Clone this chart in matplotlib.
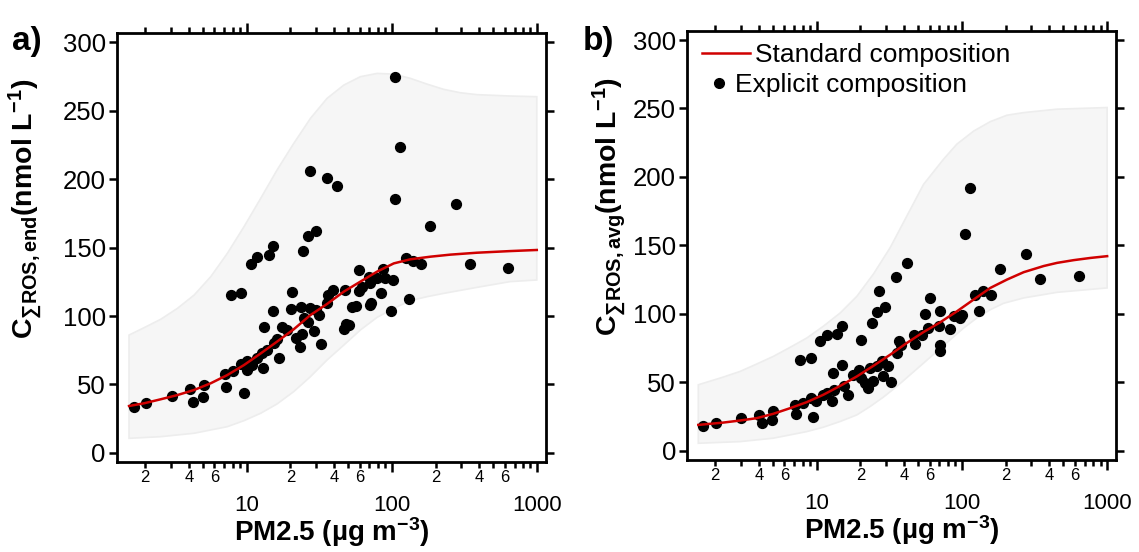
import numpy as np
import matplotlib
matplotlib.use("Agg")
import matplotlib.pyplot as plt
from matplotlib.lines import Line2D
from matplotlib.ticker import FixedLocator, FuncFormatter

plt.rcParams["font.family"] = ["Liberation Sans", "DejaVu Sans"]
plt.rcParams["mathtext.fontset"] = "custom"
plt.rcParams["mathtext.rm"] = "Liberation Sans"
plt.rcParams["mathtext.bf"] = "Liberation Sans:bold"
plt.rcParams["mathtext.it"] = "Liberation Sans:italic"

# ---- panel a: end-of-run concentration ----
a_pm = [1.68, 2.04, 3.05, 4.08, 4.30, 4.98, 5.12, 7.10, 7.25, 8.06, 9.19, 9.54,
        10.0, 10.1, 10.9, 11.8, 12.9, 12.8, 13.2, 13.9, 15.2, 15.4, 16.2, 16.7,
        17.6, 19.0, 20.1, 20.4, 21.7, 23.3, 23.5, 24.1, 24.8, 26.5, 27.5, 29.0,
        29.8, 31.4, 32.6, 35.8, 36.4, 39.4, 46.7, 47.9, 48.7, 50.5, 53.2, 57.0,
        59.2, 59.2, 62.4, 69.3, 70.4, 71.2, 72.3, 79.1, 84.2, 86.5, 90.2, 99.2,
        101.9, 7.76, 9.19, 10.7, 11.8, 14.2, 15.3, 24.3, 26.4, 29.8, 27.1, 35.5,
        42.2, 104.6, 114.4, 105.7, 182, 277.6, 125.8, 139.8, 159.5, 131.2, 342.6, 635.3]
a_ros = [33.8, 36.7, 41.8, 46.5, 37.5, 40.6, 49.6, 57.4, 47.9, 59.9, 64.7, 43.6,
         60.6, 67.2, 64.2, 69.1, 62.3, 73.2, 92.2, 75.2, 103.6, 80.0, 83.0, 69.1,
         92.2, 89.8, 104.9, 117.3, 83.7, 77.1, 106.8, 86.9, 98.3, 95.9, 105.6, 89.1,
         104.4, 100.7, 79.3, 109.2, 115.3, 119.0, 90.3, 119.0, 93.9, 93.4, 106.8, 107.3,
         133.6, 118.5, 121.4, 128.2, 123.8, 108.0, 109.7, 127.5, 116.5, 134.1, 127.5, 103.9,
         126.3, 115.3, 116.5, 137.7, 143.3, 144.5, 151.1, 147.4, 158.4, 161.8, 206.1, 201.0,
         194.9, 274.2, 223.6, 185.2, 165.7, 181.5, 142.6, 140.4, 138.0, 112.2, 137.7, 135.3]

a_std_pm = [1.55, 1.97, 2.56, 3.34, 4.35, 5.66, 7.36, 9.59, 12.5, 16.2, 21.1, 27.5,
            35.8, 46.7, 60.7, 79.1, 103.0, 134, 184, 252.5, 385, 652, 995]
a_std_ros = [34.3, 36.3, 39.2, 42.3, 46.0, 50.9, 56.9, 64.2, 72.7, 81.3, 90.3, 100.7,
             108.8, 117.8, 125.1, 132.4, 138.4, 141.4, 143.3, 144.8, 146.2, 147.4, 148.2]

a_up_pm = [1.55, 1.97, 2.56, 3.34, 4.35, 5.66, 7.36, 9.59, 12.5, 16.2, 21.1, 27.5,
           35.8, 46.7, 60.7, 79.1, 103.0, 134, 174.5, 227, 295.7, 385, 652, 995]
a_up_ros = [86.1, 91.5, 97.6, 105.6, 115.3, 128.7, 145.7, 165.2, 185.9, 206.6, 226.0,
            244.3, 258.9, 268.6, 274.7, 277.1, 276.6, 273.5, 269.3, 265.5, 263.0, 261.6,
            260.6, 260.1]
a_lo_pm = [1.55, 2.56, 4.35, 7.36, 9.59, 12.5, 16.2, 21.1, 27.5, 35.8, 46.7, 60.7,
           79.1, 103.0, 134, 174.5, 227, 385, 652, 995]
a_lo_ros = [10.7, 11.9, 14.4, 19.2, 23.6, 29.0, 35.8, 44.8, 55.7, 67.9, 78.8, 89.8,
            99.0, 105.6, 111.2, 114.1, 116.5, 120.9, 125.1, 126.3]

# ---- panel b: averaged concentration ----
b_pm = [1.65, 2.01, 3.01, 4.00, 4.22, 4.89, 5.02, 7.09, 7.16, 8.00, 9.09, 9.48,
        9.89, 11.1, 11.8, 12.7, 13.2, 13.0, 15.0, 15.4, 16.5, 17.7, 19.7, 20.1,
        21.5, 22.7, 23.3, 24.3, 25.9, 28.1, 28.8, 31.2, 32.4, 35.6, 36.6, 37.9,
        46.4, 47.6, 53.0, 58.3, 69.0, 70.1, 70.8, 70.8, 83.1, 87.5, 96.3, 99.9,
        130.2, 123.5, 139.5, 159.2, 55.8, 60.4, 7.67, 9.09, 10.5, 11.7, 13.9, 15.0,
        20.1, 23.9, 25.9, 29.3, 26.9, 35.2, 42.0, 105.4, 114.1, 181.7, 277.6, 343.1, 637.3]
b_ros = [18.5, 20.2, 23.9, 26.3, 20.2, 22.7, 29.3, 33.7, 27.1, 34.9, 38.5, 25.1,
         36.8, 41.0, 42.2, 36.1, 44.6, 56.8, 62.9, 47.1, 41.0, 55.6, 59.3, 53.2,
         49.5, 45.8, 60.5, 50.7, 61.7, 65.3, 54.4, 61.7, 50.2, 71.4, 80.0, 77.5,
         84.9, 78.0, 84.9, 89.7, 91.0, 77.5, 72.7, 101.9, 89.0, 98.3, 97.1, 99.5,
         101.9, 114.1, 116.6, 114.1, 100.2, 111.7, 66.1, 67.8, 80.5, 84.4, 85.6, 91.0,
         81.2, 93.4, 101.4, 105.1, 116.6, 126.8, 137.3, 158.5, 191.9, 133.1, 144.1, 125.3, 128.0]

b_std_pm = [1.53, 2.27, 2.96, 3.85, 5.02, 6.55, 8.53, 11.1, 14.5, 18.9, 24.6, 32.0,
            41.7, 54.4, 70.8, 92.3, 120.3, 156.7, 204.2, 266.1, 365.6, 451.9, 588.8,
            766.8, 999.5]
b_std_ros = [19.0, 20.7, 22.2, 23.9, 27.1, 31.2, 35.6, 41.0, 47.5, 54.4, 62.2, 70.2,
             78.8, 86.8, 93.9, 101.9, 110.5, 119.0, 125.1, 130.5, 135.0, 137.3, 139.3,
             140.9, 142.2]

b_up_pm = [1.53, 2.27, 2.96, 3.85, 5.02, 6.55, 8.53, 11.1, 14.5, 18.9, 24.6, 32.0,
           41.7, 54.4, 74.7, 92.3, 120.3, 156.7, 204.2, 266.1, 451.9, 999.5]
b_up_ros = [48.3, 53.9, 58.0, 63.4, 69.0, 75.6, 82.4, 91.0, 100.7, 112.9, 129.2, 148.3,
            171.4, 194.6, 213.0, 224.0, 233.5, 240.4, 245.1, 247.0, 249.5, 250.7]
b_lo_pm = [1.53, 2.96, 5.02, 8.53, 11.1, 14.5, 18.9, 23.3, 28.8, 35.6, 44.0, 54.4,
           67.2, 83.1, 102.6, 126.9, 156.7, 193.7, 266.1, 451.9, 999.5]
b_lo_ros = [5.6, 6.8, 9.3, 14.1, 17.3, 21.5, 26.3, 32.4, 39.3, 47.1, 55.6, 64.1,
            72.7, 81.2, 89.7, 97.1, 103.1, 107.8, 111.7, 115.8, 119.0]

RED = "#d00000"
BAND = "#f6f6f6"
BAND_EDGE = "#ededed"


def minor_fmt(v, pos):
    m = int(round(v / 10 ** np.floor(np.log10(v) + 1e-9)))
    return str(m) if m in (2, 4, 6) else ""


def style_axes(ax, ylabel, label_xy):
    ax.set_xscale("log")
    ax.set_xlim(1.28, 1150)
    ax.set_ylim(-6.6, 306.6)
    ax.set_yticks(np.arange(0, 301, 50))
    ax.xaxis.set_major_locator(FixedLocator([10, 100, 1000]))
    ax.xaxis.set_major_formatter(FuncFormatter(lambda v, p: f"{int(v)}"))
    minors = [m * 10 ** e for e in (0, 1, 2) for m in range(2, 10)]
    ax.xaxis.set_minor_locator(FixedLocator(minors))
    ax.xaxis.set_minor_formatter(FuncFormatter(minor_fmt))
    for s in ax.spines.values():
        s.set_linewidth(2.0)
    ax.tick_params(which="both", direction="out", top=True, right=True,
                   width=1.8)
    ax.tick_params(axis="y", which="major", length=6, labelsize=18.5, pad=2)
    ax.tick_params(axis="x", which="major", length=7, labelsize=16, pad=17)
    ax.tick_params(axis="x", which="minor", length=4, labelsize=12, pad=2)
    ax.set_xlabel(r"PM2.5 (µg m$^{\mathbf{-3}}$)", fontsize=20,
                  fontweight="bold", labelpad=-1)
    ax.set_ylabel(ylabel, fontsize=20.5)
    ax.yaxis.set_label_coords(*label_xy)


fig = plt.figure(figsize=(11.39, 5.52), dpi=100)
ax_a = fig.add_axes([0.1027, 0.1630, 0.3766, 0.7772])
ax_b = fig.add_axes([0.6032, 0.1667, 0.3766, 0.7772])

panels = [
    (ax_a, a_pm, a_ros, a_std_pm, a_std_ros, a_up_pm, a_up_ros, a_lo_pm, a_lo_ros,
     r"$\mathbf{C_{∑ROS,end}(nmol\ L^{-1})}$", (-0.17, 0.59)),
    (ax_b, b_pm, b_ros, b_std_pm, b_std_ros, b_up_pm, b_up_ros, b_lo_pm, b_lo_ros,
     r"$\mathbf{C_{∑ROS,avg}(nmol\ L^{-1})}$", (-0.138, 0.59)),
]

for ax, pm, ros, spm, sros, upm, uros, lpm, lros, ylab, lxy in panels:
    ax.fill(np.r_[upm, lpm[::-1]], np.r_[uros, lros[::-1]],
            facecolor=BAND, edgecolor=BAND_EDGE, lw=1.2, zorder=1)
    ax.scatter(pm, ros, s=50, color="black", zorder=3)
    ax.plot(spm, sros, color=RED, lw=1.8, zorder=4)
    style_axes(ax, ylab, lxy)

# legend in panel b (two pieces so the text offsets match the original)
h_line = Line2D([], [], color=RED, lw=1.8)
h_dot = Line2D([], [], ls="none", marker="o", ms=7, color="black")
leg1 = ax_b.legend([h_line], ["Standard composition"], loc="center left",
                   bbox_to_anchor=(0.035, 0.944), frameon=False, fontsize=19,
                   borderpad=0, borderaxespad=0, handlelength=1.82,
                   handletextpad=0.2)
ax_b.add_artist(leg1)
ax_b.legend([h_dot], ["Explicit composition"], loc="center left",
            bbox_to_anchor=(0.056, 0.874), frameon=False, fontsize=19,
            borderpad=0, borderaxespad=0, handlelength=0.6, handletextpad=0.3)

fig.text(12 / 1139, 1 - 50 / 552, "a)", fontsize=24, fontweight="bold",
         va="baseline")
fig.text(583 / 1139, 1 - 50 / 552, "b)", fontsize=24, fontweight="bold",
         va="baseline")

fig.savefig("out.png", dpi=100)
